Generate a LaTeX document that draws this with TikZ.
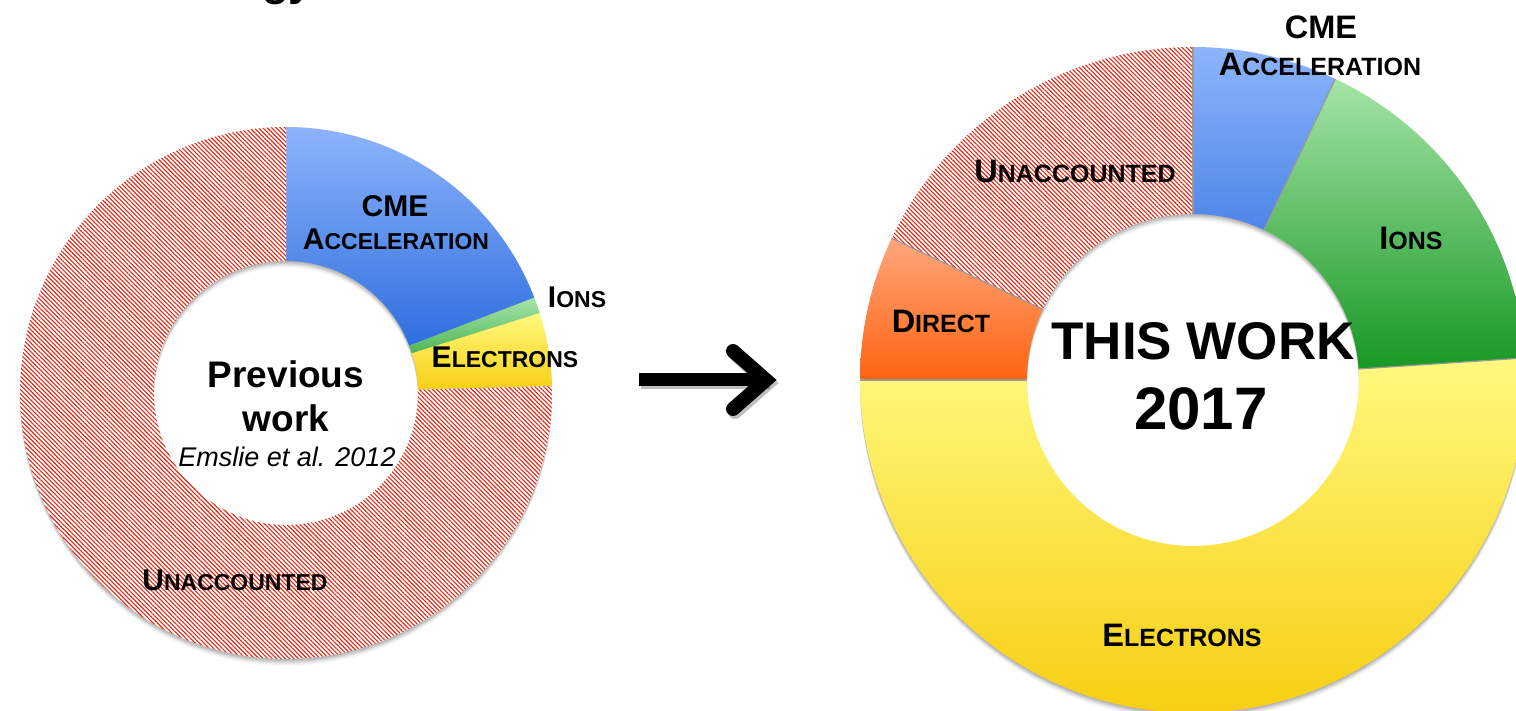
\documentclass[tikz,border=0pt]{standalone}
\usepackage{fontspec}
\setmainfont{Liberation Sans}
\usetikzlibrary{calc,patterns.meta}
\definecolor{cmeT}{HTML}{8DB4FA}
\definecolor{cmeB}{HTML}{1A5FDA}
\definecolor{ionT}{HTML}{A5E4A7}
\definecolor{ionB}{HTML}{12951F}
\definecolor{eleT}{HTML}{FFF97E}
\definecolor{eleB}{HTML}{F7CD10}
\definecolor{dirT}{HTML}{FFA67B}
\definecolor{dirB}{HTML}{FF6410}
\definecolor{hatchred}{HTML}{DE2614}
\newcommand\ringseg[6]{(#1,#2) ++(#5:#3) arc[start angle=#5,end angle=#6,radius=#3] -- ($(#1,#2)+(#6:#4)$) arc[start angle=#6,end angle=#5,radius=#4] -- cycle}
\newcommand\scL[2]{{\fontsize{30}{30}\selectfont #1}{\fontsize{23}{23}\selectfont #2}}
\newcommand\scR[2]{{\fontsize{32.5}{32.5}\selectfont #1}{\fontsize{25}{25}\selectfont #2}}
\begin{document}
\begin{tikzpicture}[x=1pt,y=1pt,
  lbl/.style={inner sep=0pt, anchor=base, font=\bfseries},
  hatchfill/.style={pattern={Lines[angle=-45,distance=3.1pt,line width=1.1pt]}, pattern color=hatchred},
  segline/.style={draw=black!30, line width=0.6pt}]
\useasboundingbox (0,0) rectangle (1516,711);
\clip (0,0) rectangle (1516,711);
\fill[white] (0,0) rectangle (1516,711);

% ---- slide title, cut off at the top edge (only descenders visible)
\node[inner sep=0pt, anchor=base west, font=\bfseries\fontsize{44}{44}\selectfont] (title) at (164,715) {Energy};

% ---- shadows
\foreach \d/\o in {1/0.07,2/0.06,3/0.06,4/0.05,5/0.04,6/0.03,7/0.02}{
  \fill[black,opacity=\o,even odd rule] (286,318-\d) circle[radius=266] (286,318-\d) circle[radius=132];
  \fill[black,opacity=\o,even odd rule] (1193,331-\d) circle[radius=333] (1193,331-\d) circle[radius=166];
}

% ---- left donut (previous work)
\shade[top color=cmeT, bottom color=cmeB] \ringseg{286}{318}{266}{132}{90}{21};
\shade[top color=ionT, bottom color=ionB] \ringseg{286}{318}{266}{132}{21}{17.5};
\shade[top color=eleT, bottom color=eleB] \ringseg{286}{318}{266}{132}{17.5}{1.5};
\fill[white] \ringseg{286}{318}{266}{132}{1.5}{-270};
\fill[hatchfill] \ringseg{286}{318}{266}{132}{1.5}{-270};

% ---- right donut (this work)
\shade[top color=cmeT, bottom color=cmeB] \ringseg{1193}{331}{333}{166}{90}{64.7};
\shade[top color=ionT, bottom color=ionB] \ringseg{1193}{331}{333}{166}{64.7}{3.8};
\shade[top color=eleT, bottom color=eleB] \ringseg{1193}{331}{333}{166}{3.8}{-180};
\shade[top color=dirT, bottom color=dirB] \ringseg{1193}{331}{333}{166}{180}{154.8};
\fill[white] \ringseg{1193}{331}{333}{166}{154.8}{90};
\fill[hatchfill] \ringseg{1193}{331}{333}{166}{154.8}{90};
\foreach \a in {64.7,3.8,180,154.8,90}{
  \draw[black!40, line width=1.2pt] ($(1193,331)+(\a:166)$) -- ($(1193,331)+(\a:333)$);
}

% ---- arrow
\begin{scope}[shift={(2,-3)}, opacity=0.25]
  \draw[black, line width=13pt] (639,331.5) -- (768,331.5);
  \draw[black, line width=14pt, line cap=round, line join=miter] (733,360) -- (766,331) -- (733,302);
\end{scope}
\draw[black, line width=13pt] (639,331.5) -- (768,331.5);
\draw[black, line width=14pt, line cap=round, line join=miter] (733,360) -- (766,331) -- (733,302);

% ---- left labels
\node[lbl, font=\bfseries\fontsize{30}{30}\selectfont] (lcme) at (395,494) {CME};
\node[lbl] (lacc) at (396,461) {\scL{A}{CCELERATION}};
\node[lbl] (lion) at (577,403) {\scL{I}{ONS}};
\node[lbl] (lele) at (505,343) {\scL{E}{LECTRONS}};
\node[lbl] (lun) at (235,120) {\scL{U}{NACCOUNTED}};
\node[lbl, font=\bfseries\fontsize{37}{37}\selectfont] (lprev) at (286,323) {Previous};
\node[lbl, font=\bfseries\fontsize{37}{37}\selectfont] (lwork) at (286,279) {work};
\node[inner sep=0pt, anchor=base, font=\itshape\fontsize{27}{27}\selectfont] (lref) at (287,244) {Emslie et al. 2012};

% ---- right labels
\node[lbl, font=\bfseries\fontsize{32.5}{32.5}\selectfont] (rcme) at (1321,672) {CME};
\node[lbl] (racc) at (1320,635) {\scR{A}{CCELERATION}};
\node[lbl] (run) at (1075,528) {\scR{U}{NACCOUNTED}};
\node[lbl] (rion) at (1411,461) {\scR{I}{ONS}};
\node[lbl] (rdir) at (941,378) {\scR{D}{IRECT}};
\node[lbl] (rele) at (1182,64) {\scR{E}{LECTRONS}};
\node[lbl, font=\bfseries\fontsize{53}{53}\selectfont] (rthis) at (1203,351) {THIS WORK};
\node[lbl, font=\bfseries\fontsize{60}{60}\selectfont] (ryear) at (1201,281) {2017};
\end{tikzpicture}
\end{document}
